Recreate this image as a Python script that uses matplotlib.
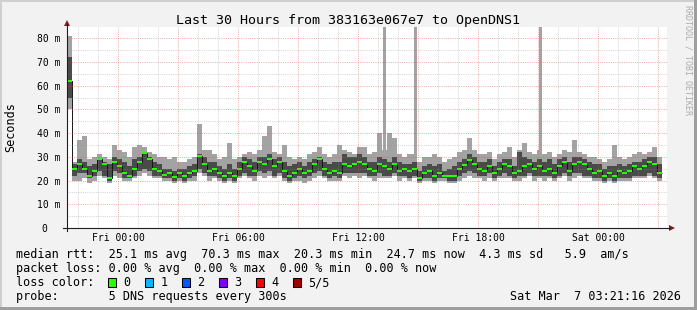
import numpy as np
import matplotlib
matplotlib.use("Agg")
import matplotlib.pyplot as plt
from matplotlib.patches import Rectangle, Polygon
from matplotlib.lines import Line2D

W, H = 697, 310
MONO = "DejaVu Sans Mono"

# 15 minute steps, hours relative to Fri 00:00
t_start = -2.55
step_h = 0.25

# median rtt (ms)
median = [62, 25, 27, 25, 22, 24, 29, 27, 21, 28,
          26, 23, 22, 25, 28, 31.5, 29, 25, 24, 22.5,
          23, 21.5, 23, 22, 23, 24, 30.5, 27, 24, 25,
          23, 22, 23, 22, 25, 28, 26, 24, 28, 27,
          29, 26, 28, 24, 22, 23, 25, 23, 24, 27,
          29, 25, 23, 24, 23, 27, 26, 27, 28, 27,
          25, 24, 27, 26, 25, 27, 24, 25, 24, 25,
          21, 23, 24, 22, 23, 22, 22, 22, 25, 26.5,
          28.5, 27, 25, 24, 26, 23, 25, 27, 26, 23,
          24, 26, 27, 25, 26, 24, 25, 23, 26, 28,
          24, 27, 28, 27, 25, 23, 24, 22, 23, 22,
          24, 23, 24, 26, 25, 26, 28, 27, 23]

# smoke: min / max ping
smoke_lo = [50, 20, 20, 21, 19, 20, 22, 21, 19, 22,
            21, 20, 20, 21, 22, 23, 22, 21, 21, 20,
            20, 19, 20, 19, 20, 20, 23, 22, 20, 21,
            20, 19, 20, 19, 21, 22, 21, 20, 22, 21,
            22, 21, 22, 20, 19, 20, 20, 19, 20, 21,
            22, 21, 20, 20, 20, 22, 21, 22, 21, 22,
            21, 20, 21, 21, 21, 22, 20, 21, 20, 21,
            19, 20, 20, 19, 20, 20, 19, 19, 20, 21,
            22, 21, 21, 20, 21, 20, 21, 21, 21, 20,
            20, 21, 22, 20, 21, 20, 21, 20, 21, 22,
            20, 21, 22, 21, 21, 20, 20, 19, 20, 19,
            20, 20, 20, 21, 21, 21, 22, 21, 20]
smoke_hi = [81, 28, 37, 39, 29, 30, 31, 30, 29, 35,
            33, 32, 30, 34, 35, 34, 32, 31, 30, 30,
            29, 30, 28, 28, 29, 30, 44, 33, 33, 31,
            29, 30, 36, 29, 30, 31, 32, 31, 33, 39,
            43, 32, 31, 35, 30, 29, 30, 29, 31, 32,
            34, 31, 30, 31, 35, 33, 32, 31, 34, 34,
            31, 32, 40, 33, 40, 38, 31, 30, 31, 31,
            28, 30, 30, 31, 30, 28, 29, 30, 32, 33,
            38, 33, 31, 31, 32, 29, 31, 32, 34, 30,
            33, 36, 32, 31, 33, 31, 32, 30, 31, 33,
            32, 37, 32, 31, 30, 30, 29, 28, 29, 35,
            30, 29, 30, 31, 32, 31, 32, 34, 30]

# inner smoke: 2nd / 4th ping
inner_lo = [55, 22, 23, 23, 21, 22, 24, 22, 20, 24,
            23, 21, 21, 22, 24, 25, 24, 22, 22, 21,
            21, 20, 21, 20, 21, 22, 25, 23, 22, 22,
            21, 20, 21, 20, 22, 23, 22, 22, 24, 23,
            24, 22, 23, 21, 20, 21, 22, 21, 22, 23,
            24, 22, 21, 22, 21, 23, 23, 23, 23, 23,
            22, 22, 23, 22, 22, 23, 22, 22, 21, 22,
            20, 21, 21, 20, 21, 21, 20, 20, 22, 23,
            24, 23, 22, 22, 23, 21, 22, 23, 22, 21,
            22, 22, 23, 22, 22, 22, 22, 21, 22, 23,
            22, 23, 23, 22, 22, 21, 21, 20, 21, 20,
            21, 21, 21, 22, 22, 22, 23, 22, 21]
inner_hi = [72, 27, 29, 28, 26, 27, 29, 28, 27, 30,
            29, 28, 26, 29, 30, 32, 30, 28, 27, 25,
            25, 24, 25, 25, 26, 27, 31, 30, 28, 28,
            26, 25, 27, 25, 28, 30, 29, 28, 30, 30,
            31, 29, 30, 28, 26, 27, 28, 26, 28, 29,
            30, 28, 27, 28, 28, 31, 30, 30, 31, 30,
            28, 28, 30, 29, 28, 30, 28, 27, 27, 28,
            24, 26, 27, 26, 27, 24, 25, 26, 28, 29,
            31, 30, 28, 28, 29, 26, 28, 29, 29, 26,
            32, 30, 29, 28, 29, 28, 29, 27, 29, 30,
            28, 30, 30, 29, 28, 27, 27, 25, 26, 26,
            27, 26, 27, 28, 28, 29, 30, 30, 27]

# single slow pings going off the top
spike_t = [13.3, 14.875, 21.125]
spike_base = [30, 29, 31]
spike_top = [90, 90, 90]

xtick_hours = [0, 6, 12, 18, 24]
xtick_labels = ["Fri 00:00", "Fri 06:00", "Fri 12:00", "Fri 18:00", "Sat 00:00"]
ytick_vals = [0, 10, 20, 30, 40, 50, 60, 70, 80]
ytick_labels = ["0  ", "10 m", "20 m", "30 m", "40 m", "50 m", "60 m", "70 m", "80 m"]

loss_labels = ["0", "1", "2", "3", "4", "5/5"]
loss_colors = ["#26ff00", "#00b8ff", "#0059ff", "#7e00ff", "#ff0000", "#a10000"]

title = "Last 30 Hours from 383163e067e7 to OpenDNS1"
legend_lines = [
    "median rtt:  25.1 ms avg  70.3 ms max  20.3 ms min  24.7 ms now  4.3 ms sd   5.9  am/s",
    "packet loss: 0.00 % avg  0.00 % max  0.00 % min  0.00 % now",
    "loss color:",
    "probe:       5 DNS requests every 300s",
]
stamp = "Sat Mar  7 03:21:16 2026"


def fx(x):
    return x / W


def fy(y):
    return 1 - y / H


fig = plt.figure(figsize=(W / 100, H / 100), dpi=100)
fig.patch.set_facecolor("#f2f2f2")

# 3d border
fig.add_artist(Rectangle((0, fy(2)), 1, 2 / H, transform=fig.transFigure, color="#cfcfcf", lw=0))
fig.add_artist(Rectangle((0, 0), 2 / W, 1, transform=fig.transFigure, color="#cfcfcf", lw=0))
fig.add_artist(Rectangle((fx(694), 0), 3 / W, 1, transform=fig.transFigure, color="#9e9e9e", lw=0))
fig.add_artist(Rectangle((0, 0), 1, 3 / H, transform=fig.transFigure, color="#9e9e9e", lw=0))

ax = fig.add_axes([fx(67), fy(228), 600 / W, 201 / H])
ax.set_facecolor("white")
for s in ax.spines.values():
    s.set_visible(False)

n = len(median)
edges = t_start + step_h * np.arange(n + 1)
med = np.array(median, dtype=float)

ax.stairs(smoke_hi, edges, baseline=smoke_lo, fill=True, color="#a3a3a3", lw=0, zorder=2)
ax.bar(spike_t, np.array(spike_top) - np.array(spike_base), bottom=spike_base,
       width=0.15, color="#a3a3a3", lw=0, zorder=2)
ax.stairs(inner_hi, edges, baseline=inner_lo, fill=True, color="#4a4a4a", lw=0, zorder=3)
ax.stairs(med, edges, baseline=None, color="#151515", lw=0.7, zorder=4)
ax.stairs(med + 0.42, edges, baseline=med - 0.42, fill=True, color=loss_colors[0], lw=0, zorder=5)

ax.set_xlim(t_start, t_start + 30)
ax.set_ylim(0, 201 / 2.371)

# grid (rrdtool puts it over the graph)
dots = (0, (1, 1.2))
for h in range(-2, 28):
    if h % 3 == 0:
        ax.axvline(h, color="#de4f4f", alpha=0.45, lw=0.72, ls=dots, zorder=6)
    else:
        ax.axvline(h, color="#8f8f8f", alpha=0.38, lw=0.72, ls=dots, zorder=6)
for v in range(5, 85, 5):
    if v % 10 == 0:
        ax.axhline(v, color="#de4f4f", alpha=0.45, lw=0.72, ls=dots, zorder=6)
    else:
        ax.axhline(v, color="#8f8f8f", alpha=0.38, lw=0.72, ls=dots, zorder=6)

ax.set_xticks(xtick_hours)
ax.set_xticklabels(xtick_labels, fontsize=7, family=MONO)
ax.set_yticks(ytick_vals)
ax.set_yticklabels(ytick_labels, fontsize=7, family=MONO)
ax.tick_params(axis="x", length=0, pad=3.6)
ax.tick_params(axis="y", length=0, pad=5)

# axes with arrows
fig.add_artist(Line2D([fx(63), fx(670)], [fy(228), fy(228)], color="#1f1f1f", lw=0.8))
fig.add_artist(Line2D([fx(67), fx(67)], [fy(231), fy(24)], color="#1f1f1f", lw=0.8))
fig.add_artist(Polygon([[fx(669), fy(225)], [fx(669), fy(231)], [fx(675), fy(228)]],
                       closed=True, transform=fig.transFigure, color="#801f1f", lw=0))
fig.add_artist(Polygon([[fx(64), fy(26)], [fx(70), fy(26)], [fx(67), fy(20)]],
                       closed=True, transform=fig.transFigure, color="#801f1f", lw=0))

fig.text(fx(348), fy(24), title, ha="center", va="baseline", fontsize=9.6, family=MONO)
fig.text(fx(11), fy(127), "Seconds", rotation=90, ha="center", va="center",
         fontsize=8.5, family=MONO)
fig.text(fx(688), fy(5), "RRDTOOL / TOBI OETIKER", rotation=270, ha="center", va="top",
         fontsize=6, family=MONO, color="#ababab")

baselines = [258.3, 272.3, 286.3, 300]
for line, yb in zip(legend_lines, baselines):
    fig.text(fx(16), fy(yb), line, ha="left", va="baseline", fontsize=8.5, family=MONO)

for i, (lab, col) in enumerate(zip(loss_labels, loss_colors)):
    bx = 108.3 + 37 * i
    fig.add_artist(Rectangle((fx(bx), fy(286.7)), 7.5 / W, 8.4 / H, transform=fig.transFigure,
                             facecolor=col, edgecolor="black", lw=0.75))
    fig.text(fx(bx + 15), fy(286.3), lab, ha="left", va="baseline", fontsize=8.5, family=MONO)

fig.text(fx(681), fy(300), stamp, ha="right", va="baseline", fontsize=8.5, family=MONO)

fig.savefig("out.png", dpi=100, facecolor=fig.get_facecolor())
